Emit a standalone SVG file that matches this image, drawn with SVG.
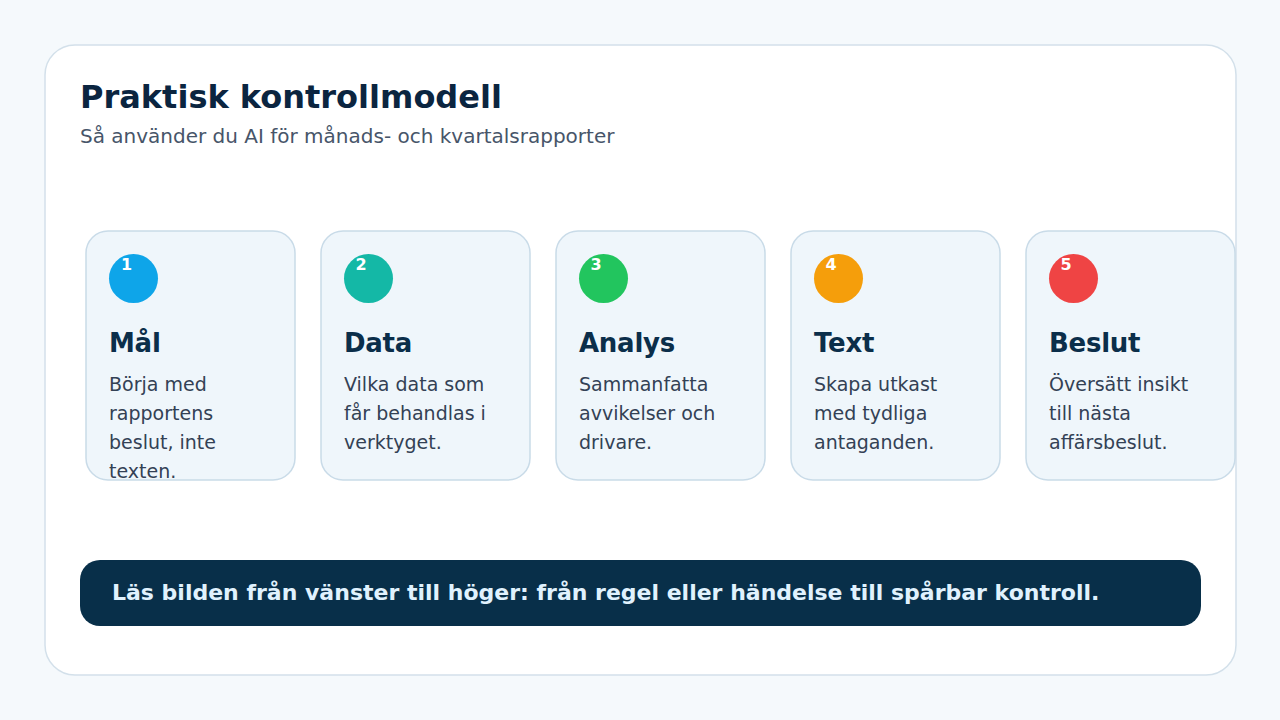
<svg xmlns="http://www.w3.org/2000/svg" width="1280" height="720" viewBox="0 0 1280 720">
  <style>
    .panel { fill: #ffffff; stroke: #d3e0ea; stroke-width: 1.5; }
    .card { fill: #eff6fb; stroke: #c9dbe8; stroke-width: 1.5; }
    .title { font-family: "DejaVu Sans", Verdana, sans-serif; font-weight: bold; font-size: 32px; fill: #0b2540; }
    .subtitle { font-family: "DejaVu Sans", Verdana, sans-serif; font-size: 20px; fill: #475569; }
    .num { font-family: "DejaVu Sans", Verdana, sans-serif; font-weight: bold; font-size: 16px; fill: #ffffff; text-anchor: middle; }
    .head { font-family: "DejaVu Sans", Verdana, sans-serif; font-weight: bold; font-size: 26px; letter-spacing: -0.26px; fill: #0b2e4a; }
    .body { font-family: "DejaVu Sans", Verdana, sans-serif; font-size: 19px; fill: #334155; }
    .banner { fill: #082f49; }
    .bannertext { font-family: "DejaVu Sans", Verdana, sans-serif; font-weight: bold; font-size: 22px; fill: #e0f2fe; }
  </style>
  <rect x="0" y="0" width="1280" height="720" fill="#f5f9fc"/>
  <rect class="panel" x="45" y="45" width="1191" height="630" rx="30"/>
  <text class="title" x="80" y="108">Praktisk kontrollmodell</text>
  <text class="subtitle" x="80" y="143">Så använder du AI för månads- och kvartalsrapporter</text>

  <g id="node-1">
    <rect class="card" x="86" y="231" width="209" height="249" rx="22"/>
    <circle cx="133.5" cy="278.5" r="24.5" fill="#0ea5e9"/>
    <text class="num" x="126.5" y="270">1</text>
    <text class="head" x="109" y="351.5">Mål</text>
    <text class="body" x="109" y="391">Börja med</text>
    <text class="body" x="109" y="420">rapportens</text>
    <text class="body" x="109" y="449">beslut, inte</text>
    <text class="body" x="109" y="478">texten.</text>
  </g>
  <g id="node-2">
    <rect class="card" x="321" y="231" width="209" height="249" rx="22"/>
    <circle cx="368.5" cy="278.5" r="24.5" fill="#14b8a6"/>
    <text class="num" x="361" y="270">2</text>
    <text class="head" x="344" y="351.5">Data</text>
    <text class="body" x="344" y="391">Vilka data som</text>
    <text class="body" x="344" y="420">får behandlas i</text>
    <text class="body" x="344" y="449">verktyget.</text>
  </g>
  <g id="node-3">
    <rect class="card" x="556" y="231" width="209" height="249" rx="22"/>
    <circle cx="603.5" cy="278.5" r="24.5" fill="#22c55e"/>
    <text class="num" x="596" y="270">3</text>
    <text class="head" x="579" y="351.5">Analys</text>
    <text class="body" x="579" y="391">Sammanfatta</text>
    <text class="body" x="579" y="420">avvikelser och</text>
    <text class="body" x="579" y="449">drivare.</text>
  </g>
  <g id="node-4">
    <rect class="card" x="791" y="231" width="209" height="249" rx="22"/>
    <circle cx="838.5" cy="278.5" r="24.5" fill="#f59e0b"/>
    <text class="num" x="831" y="270">4</text>
    <text class="head" x="814" y="351.5">Text</text>
    <text class="body" x="814" y="391">Skapa utkast</text>
    <text class="body" x="814" y="420">med tydliga</text>
    <text class="body" x="814" y="449">antaganden.</text>
  </g>
  <g id="node-5">
    <rect class="card" x="1026" y="231" width="209" height="249" rx="22"/>
    <circle cx="1073.5" cy="278.5" r="24.5" fill="#ef4444"/>
    <text class="num" x="1066" y="270">5</text>
    <text class="head" x="1049" y="351.5">Beslut</text>
    <text class="body" x="1049" y="391">Översätt insikt</text>
    <text class="body" x="1049" y="420">till nästa</text>
    <text class="body" x="1049" y="449">affärsbeslut.</text>
  </g>
  <g id="connectors"></g>

  <g id="footer">
    <rect class="banner" x="80" y="560" width="1121" height="66" rx="20"/>
    <text class="bannertext" x="112" y="600">Läs bilden från vänster till höger: från regel eller händelse till spårbar kontroll.</text>
  </g>
</svg>
